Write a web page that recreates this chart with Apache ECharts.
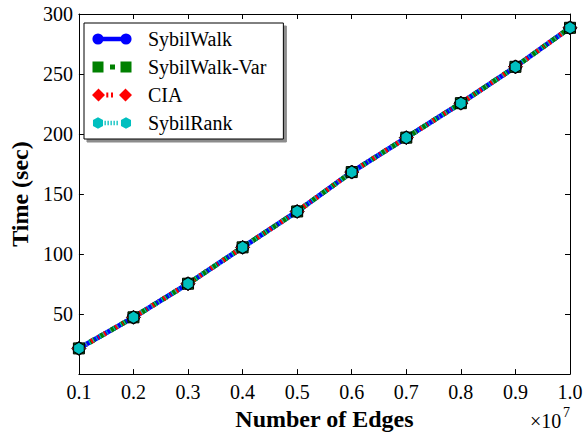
<!DOCTYPE html>
<html>
<head>
<meta charset="utf-8">
<script src="https://cdn.jsdelivr.net/npm/echarts@6/dist/echarts.min.js"></script>
<style>html,body{margin:0;padding:0;background:#fff}#c{width:586px;height:436px}</style>
</head>
<body>
<div id="c"></div>
<script>
// ---- data ----
const edges = [0.1, 0.2, 0.3, 0.4, 0.5, 0.6, 0.7, 0.8, 0.9, 1.0]; // x 10^7
const sybilWalk    = [21.4, 47.3, 75.3, 105.6, 135.5, 168.3, 197.0, 225.7, 256.0, 288.5];
const sybilWalkVar = [21.4, 47.3, 75.3, 105.6, 135.5, 168.3, 197.0, 225.7, 256.0, 288.5];
const cia          = [21.4, 47.3, 75.3, 105.6, 135.5, 168.3, 197.0, 225.7, 256.0, 288.5];
const sybilRank    = [21.4, 47.3, 75.3, 105.6, 135.5, 168.3, 197.0, 225.7, 256.0, 288.5];
const seriesNames = ['SybilWalk', 'SybilWalk-Var', 'CIA', 'SybilRank'];
const yTicks = [0, 50, 100, 150, 200, 250, 300];

const FONT = '"Liberation Serif", "Times New Roman", serif';
const pairs = arr => edges.map((x, i) => [x, arr[i]]);
const hexPath = 'path://M50,0 L93.3,25 L93.3,75 L50,100 L6.7,75 L6.7,25 Z';

function circ(cx, cy, r) {
  return `M${cx - r},${cy} A${r},${r} 0 1 1 ${cx + r},${cy} A${r},${r} 0 1 1 ${cx - r},${cy} Z `;
}
function rect(x, y, w, h) {
  return `M${x},${y} L${x + w},${y} L${x + w},${y + h} L${x},${y + h} Z `;
}
function diam(cx, cy, r) {
  return `M${cx - r},${cy} L${cx},${cy - r} L${cx + r},${cy} L${cx},${cy + r} Z `;
}
function hex(cx, cy, r) {
  const w = r * 0.866;
  return `M${cx},${cy - r} L${cx + w},${cy - r / 2} L${cx + w},${cy + r / 2} L${cx},${cy + r} L${cx - w},${cy + r / 2} L${cx - w},${cy - r / 2} Z `;
}
const anchors = 'M0,0 L0.05,0 L0.05,0.05 Z M40,14 L39.95,14 L39.95,13.95 Z ';
const iconWalk = 'path://' + anchors + circ(6, 7, 5.6) + rect(6, 4.8, 28, 4.4) + circ(34, 7, 5.6);
const iconVar  = 'path://' + anchors + rect(0.5, 1.5, 11, 11) + rect(18, 4.5, 5, 5) + rect(28.5, 1.5, 11, 11);
const iconCia  = 'path://' + anchors + diam(6.5, 7, 6.5) + rect(14.3, 4.5, 2, 5) + rect(19, 4.5, 2, 5) + diam(33.5, 7, 6.5);
const iconRank = 'path://' + anchors + hex(6, 7, 5.8) + rect(12.5, 4.8, 1.3, 4.4) + rect(15.5, 4.8, 1.3, 4.4) + rect(18.5, 4.8, 1.3, 4.4) + rect(21.5, 4.8, 1.3, 4.4) + rect(24.5, 4.8, 1.3, 4.4) + hex(34, 7, 5.8);

const chart = echarts.init(document.getElementById('c'), null, {renderer: 'svg'});

const axisLineStyle = {color: '#000', width: 1};
const xBase = {
  type: 'value', min: 0.1, max: 1.0, interval: 0.1,
  axisLine: {show: true, onZero: false, lineStyle: axisLineStyle},
  axisTick: {show: true, inside: true, length: 5, lineStyle: axisLineStyle},
  splitLine: {show: false}
};
const yBase = {
  type: 'value', min: 0, max: 300, interval: 50,
  axisLine: {show: true, onZero: false, lineStyle: axisLineStyle},
  axisTick: {show: true, inside: true, length: 5, lineStyle: axisLineStyle},
  splitLine: {show: false}
};

function mk(name, data, color, lineType, symbol, size) {
  return {
    name, type: 'line', data: pairs(data),
    xAxisIndex: 0, yAxisIndex: 0,
    symbol, symbolSize: size,
    showAllSymbol: true,
    lineStyle: {color, width: 5, type: lineType, cap: 'butt'},
    itemStyle: {color, borderColor: '#000', borderWidth: 1},
    emphasis: {disabled: true},
    z: 2
  };
}

chart.setOption({
  animation: false,
  backgroundColor: '#fff',
  textStyle: {fontFamily: FONT},
  grid: {left: 76, right: 16, top: 14, bottom: 56, containLabel: false},
  xAxis: [
    Object.assign({}, xBase, {
      position: 'bottom',
      name: 'Number of Edges', nameLocation: 'middle', nameGap: 30,
      nameTextStyle: {fontFamily: FONT, fontSize: 24, fontWeight: 'bold', color: '#000'},
      axisLabel: {show: true, margin: 8, fontFamily: FONT, fontSize: 20, color: '#000',
        formatter: v => v.toFixed(1)}
    }),
    Object.assign({}, xBase, {position: 'top', axisLabel: {show: false}})
  ],
  yAxis: [
    Object.assign({}, yBase, {
      position: 'left',
      name: 'Time (sec)', nameLocation: 'middle', nameGap: 44,
      nameTextStyle: {fontFamily: FONT, fontSize: 24, fontWeight: 'bold', color: '#000'},
      axisLabel: {show: true, margin: 6, fontFamily: FONT, fontSize: 20, color: '#000',
        showMinLabel: false,
        formatter: v => (yTicks.indexOf(v) > 0 ? String(v) : '')}
    }),
    Object.assign({}, yBase, {position: 'right', axisLabel: {show: false}})
  ],
  legend: {
    orient: 'vertical', left: 84, top: 23,
    padding: [6, 17, 6, 8], itemGap: 8, itemWidth: 40, itemHeight: 14,
    backgroundColor: '#fff', borderColor: '#000', borderWidth: 1, borderRadius: 0,
    shadowColor: 'rgba(0,0,0,0.45)', shadowOffsetX: 3, shadowOffsetY: 3, shadowBlur: 0,
    symbolKeepAspect: false,
    itemStyle: {borderWidth: 0},
    textStyle: {fontFamily: FONT, fontSize: 20, lineHeight: 20, color: '#000', padding: [0, 0, 0, 11]},
    selectedMode: false,
    data: [
      {name: seriesNames[0], icon: iconWalk},
      {name: seriesNames[1], icon: iconVar},
      {name: seriesNames[2], icon: iconCia},
      {name: seriesNames[3], icon: iconRank}
    ]
  },
  graphic: [
    {type: 'text', left: 530, top: 411,
      style: {text: '×10', fontFamily: FONT, fontSize: 20, fill: '#000'}},
    {type: 'text', left: 563, top: 405,
      style: {text: '7', fontFamily: FONT, fontSize: 14, fill: '#000'}}
  ],
  series: [
    mk(seriesNames[0], sybilWalk, '#0000ff', 'solid', 'circle', 12),
    mk(seriesNames[1], sybilWalkVar, '#008000', [6, 6], 'rect', 11),
    mk(seriesNames[2], cia, '#ff0000', [3, 5, 1, 5], 'diamond', 14),
    mk(seriesNames[3], sybilRank, '#00bfbf', [1, 3], hexPath, [10.5, 12.5])
  ]
});
</script>
</body>
</html>
